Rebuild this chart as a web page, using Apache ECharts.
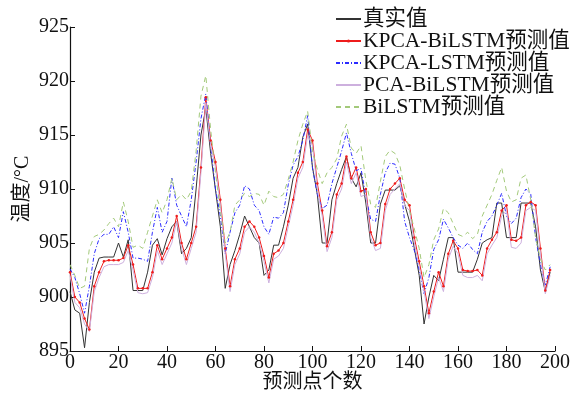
<!DOCTYPE html>
<html>
<head>
<meta charset="utf-8">
<script src="https://cdn.jsdelivr.net/npm/echarts@6/dist/echarts.min.js"></script>
<style>
  html, body { margin: 0; padding: 0; background: #fff; }
  #chart { width: 574px; height: 396px; }
</style>
</head>
<body>
<div id="chart"></div>
<script>
// 横轴：预测点序号（每隔 2 点取一个读数）
const xs = [
  0, 2, 4, 6, 8, 10, 12, 14, 16, 18, 20, 22, 24, 26, 28, 30, 32, 34, 36, 38,
  40, 42, 44, 46, 48, 50, 52, 54, 56, 58, 60, 62, 64, 66, 68, 70, 72, 74, 76, 78,
  80, 82, 84, 86, 88, 90, 92, 94, 96, 98, 100, 102, 104, 106, 108, 110, 112, 114, 116, 118,
  120, 122, 124, 126, 128, 130, 132, 134, 136, 138, 140, 142, 144, 146, 148, 150, 152, 154, 156, 158,
  160, 162, 164, 166, 168, 170, 172, 174, 176, 178, 180, 182, 184, 186, 188, 190, 192, 194, 196, 198
];

// 真实值
const trueVals = [
  900.5, 898.8, 898.5, 895.3, 899.5, 902.3, 903.6, 903.7, 903.7, 903.7, 905.0, 903.7, 905.3, 900.6, 900.6, 900.6, 902.3, 904.8, 905.4, 903.9,
  905.4, 906.5, 907.0, 904.0, 904.5, 905.5, 910.0, 915.0, 917.5, 913.3, 909.9, 906.5, 900.8, 903.0, 904.3, 905.8, 907.5, 906.5, 905.5, 905.0,
  902.0, 902.5, 904.8, 904.8, 906.5, 908.5, 911.0, 912.0, 914.8, 916.0, 912.0, 909.5, 905.0, 905.0, 909.0, 910.5, 911.8, 913.0, 911.0, 910.2,
  911.5, 908.7, 905.0, 905.0, 908.6, 909.9, 909.9, 909.9, 910.3, 908.6, 907.0, 904.5, 902.0, 897.5, 900.0, 902.0, 901.5, 903.5, 905.5, 905.5,
  902.3, 902.3, 902.3, 902.3, 903.5, 905.0, 905.3, 905.5, 908.7, 908.7, 905.5, 905.5, 905.5, 908.7, 908.7, 908.7, 906.5, 902.5, 900.5, 902.3
];

// KPCA-BiLSTM 预测值
const kpcaBilstm = [
  902.3, 900.0, 899.5, 898.0, 897.0, 901.0, 902.3, 903.3, 903.4, 903.4, 903.4, 903.6, 904.8, 903.0, 900.8, 900.8, 900.8, 902.3, 904.8, 903.5,
  904.5, 905.5, 907.5, 905.0, 903.5, 905.0, 906.5, 912.0, 918.5, 914.5, 912.5, 909.0, 904.5, 901.0, 903.5, 904.5, 906.5, 907.0, 906.5, 905.5,
  903.8, 901.8, 904.0, 904.3, 905.0, 907.0, 909.0, 911.5, 912.5, 915.5, 914.5, 910.5, 908.0, 904.7, 906.0, 909.5, 910.5, 913.0, 911.0, 912.0,
  909.8, 910.0, 906.0, 904.8, 905.0, 908.6, 910.0, 910.5, 911.0, 909.0, 908.5, 905.5, 903.3, 901.0, 898.5, 900.5, 902.3, 901.0, 904.0, 905.2,
  904.5, 902.5, 902.4, 902.4, 902.5, 902.0, 904.5, 905.3, 906.0, 908.0, 908.5, 905.3, 905.2, 905.5, 908.5, 908.8, 908.5, 904.5, 900.6, 902.5
];

// KPCA-LSTM 预测值
const kpcaLstm = [
  902.6, 901.8, 900.3, 898.5, 901.0, 904.0, 905.4, 905.8, 905.8, 906.5, 905.5, 907.9, 906.0, 903.6, 903.6, 903.5, 903.3, 906.0, 908.3, 906.0,
  907.0, 911.0, 908.5, 907.5, 906.5, 909.0, 912.5, 916.5, 918.8, 914.0, 910.0, 907.5, 904.0, 906.0, 907.8, 908.5, 910.3, 910.0, 908.5, 908.0,
  906.5, 905.8, 907.4, 907.3, 907.8, 910.4, 912.2, 913.0, 914.5, 916.8, 911.9, 909.5, 908.2, 908.5, 910.5, 912.0, 913.5, 915.2, 913.3, 911.7,
  911.9, 909.3, 907.2, 907.0, 909.5, 911.5, 912.4, 912.3, 911.0, 907.0, 905.5, 904.3, 902.5, 900.3, 901.8, 904.4, 905.3, 907.2, 906.4, 905.5,
  904.8, 904.5, 905.0, 904.4, 904.0, 906.0, 907.0, 907.5, 908.5, 909.6, 907.5, 906.8, 907.3, 909.2, 910.0, 909.5, 905.5, 903.0, 901.1, 902.8
];

// PCA-BiLSTM 预测值
const pcaBilstm = [
  902.0, 899.5, 899.0, 897.5, 896.8, 900.5, 901.8, 902.8, 903.0, 903.0, 903.0, 903.2, 904.3, 902.5, 900.4, 900.3, 900.4, 901.8, 904.3, 903.0,
  904.0, 905.0, 907.0, 904.5, 903.0, 904.5, 906.0, 911.5, 918.0, 914.0, 912.0, 908.5, 904.0, 900.5, 903.0, 904.0, 906.0, 906.5, 906.0, 905.0,
  903.3, 901.3, 903.5, 903.8, 904.5, 906.5, 908.5, 911.0, 912.0, 915.0, 914.0, 910.0, 907.5, 904.2, 905.5, 909.0, 910.0, 912.5, 910.5, 911.5,
  909.3, 909.5, 905.5, 904.3, 904.5, 908.0, 909.5, 910.0, 910.5, 908.5, 908.0, 905.0, 902.8, 900.5, 898.0, 900.0, 901.8, 900.5, 903.5, 904.7,
  904.0, 902.0, 901.8, 901.8, 902.0, 901.5, 904.0, 904.8, 905.5, 907.5, 908.0, 904.6, 904.5, 905.0, 908.0, 908.3, 908.0, 904.0, 900.3, 902.0
];

// BiLSTM 预测值
const bilstm = [
  903.0, 902.0, 900.8, 901.0, 904.5, 905.6, 905.8, 906.2, 906.8, 907.3, 906.5, 908.8, 907.0, 904.6, 904.8, 904.5, 906.0, 907.5, 909.0, 907.8,
  909.0, 911.0, 909.0, 909.5, 909.0, 909.8, 913.5, 918.6, 920.5, 915.5, 911.5, 908.0, 905.0, 906.0, 908.5, 909.0, 909.6, 909.3, 909.6, 909.5,
  908.5, 909.8, 909.3, 909.2, 909.5, 910.9, 912.5, 914.5, 916.0, 917.2, 913.5, 911.8, 910.5, 911.5, 912.0, 912.8, 914.9, 916.0, 913.8, 913.3,
  914.0, 910.8, 908.6, 908.3, 910.7, 913.0, 913.6, 913.3, 912.2, 910.0, 908.0, 906.3, 904.5, 901.8, 903.0, 905.3, 906.3, 908.2, 907.8, 906.8,
  905.8, 905.6, 906.0, 905.4, 905.8, 907.5, 908.5, 909.5, 910.8, 912.0, 909.8, 908.8, 909.0, 911.0, 911.3, 909.0, 905.5, 903.5, 902.5, 903.0
];

const yTicks = [895, 900, 905, 910, 915, 920, 925];

const FONT = "'Liberation Serif', 'Times New Roman', 'Noto Sans CJK SC', serif";

function pairs(vals) {
  return xs.map((x, i) => [x, vals[i]]);
}

const chart = echarts.init(document.getElementById("chart"), null, { renderer: "canvas" });

// 图例：只有 KPCA-BiLSTM 带小圆点，其余只画线
const hideDot = { opacity: 0 };

chart.setOption({
  animation: false,
  grid: { left: 70, right: 19, top: 27, bottom: 45, outerBoundsMode: "none" },
  legend: {
    orient: "vertical",
    left: 330,
    top: 3,
    itemWidth: 25,
    itemHeight: 4,
    itemGap: 0,
    textStyle: { fontFamily: FONT, fontSize: 21.5, color: "#111", lineHeight: 22, padding: [0, 0, 0, -3] },
    data: [
      { name: "真实值", itemStyle: hideDot },
      { name: "KPCA-BiLSTM预测值" },
      { name: "KPCA-LSTM预测值", itemStyle: hideDot },
      { name: "PCA-BiLSTM预测值", itemStyle: hideDot },
      { name: "BiLSTM预测值", itemStyle: hideDot }
    ]
  },
  xAxis: {
    type: "value",
    min: 0,
    max: 200,
    interval: 20,
    name: "预测点个数",
    nameLocation: "middle",
    nameGap: 22,
    nameMoveOverlap: false,
    nameTextStyle: { fontFamily: FONT, fontSize: 20, color: "#111" },
    axisLine: { lineStyle: { color: "#111", width: 1.2 } },
    axisTick: { inside: true, length: 5, lineStyle: { color: "#111" } },
    axisLabel: { fontFamily: FONT, fontSize: 20, color: "#111", margin: 2 },
    splitLine: { show: false }
  },
  yAxis: {
    type: "value",
    min: yTicks[0],
    max: yTicks[yTicks.length - 1],
    interval: 5,
    name: "温度/°C",
    nameLocation: "middle",
    nameGap: 37,
    nameMoveOverlap: false,
    nameRotate: 90,
    nameTextStyle: { fontFamily: FONT, fontSize: 20, color: "#111" },
    axisLine: { show: true, lineStyle: { color: "#111", width: 1.2 } },
    axisTick: { inside: true, length: 5, lineStyle: { color: "#111" } },
    axisLabel: { fontFamily: FONT, fontSize: 20, color: "#111", margin: 1 },
    splitLine: { show: false }
  },
  series: [
    {
      name: "真实值", type: "line", data: pairs(trueVals),
      symbol: "none", lineStyle: { color: "#333", width: 1 }, itemStyle: { color: "#333" }
    },
    {
      name: "KPCA-BiLSTM预测值", type: "line", data: pairs(kpcaBilstm),
      symbol: "circle", symbolSize: 2.5, showSymbol: true,
      lineStyle: { color: "#ee1c1c", width: 1 }, itemStyle: { color: "#ee1c1c" }
    },
    {
      name: "KPCA-LSTM预测值", type: "line", data: pairs(kpcaLstm),
      symbol: "none", lineStyle: { color: "#2b2bff", width: 1, type: [4, 2, 1, 2] }, itemStyle: { color: "#2b2bff" }
    },
    {
      name: "PCA-BiLSTM预测值", type: "line", data: pairs(pcaBilstm),
      symbol: "none", lineStyle: { color: "#cdb0de", width: 1 }, itemStyle: { color: "#cdb0de" }
    },
    {
      name: "BiLSTM预测值", type: "line", data: pairs(bilstm),
      symbol: "none", lineStyle: { color: "#a3c97a", width: 1, type: [5, 4] }, itemStyle: { color: "#a3c97a" }
    }
  ]
});
</script>
</body>
</html>
